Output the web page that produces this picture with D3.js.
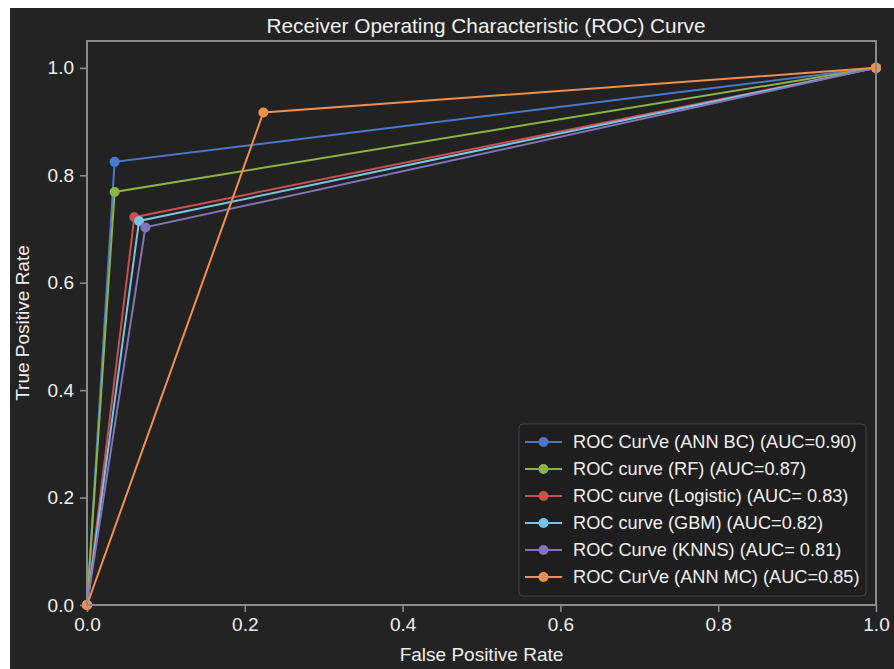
<!DOCTYPE html>
<html>
<head>
<meta charset="utf-8">
<script src="https://cdn.jsdelivr.net/npm/d3@7"></script>
<style>
  body { margin: 0; background: #ffffff; }
  text { font-family: "Liberation Sans", Arial, sans-serif; fill: #f0f0f0; }
</style>
</head>
<body>
<div id="chart"></div>
<script>
// data: fpr / tpr for each model
var names = ["ROC CurVe (ANN BC) (AUC=0.90)", "ROC curve (RF) (AUC=0.87)", "ROC curve (Logistic) (AUC= 0.83)",
             "ROC curve (GBM) (AUC=0.82)", "ROC Curve (KNNS) (AUC= 0.81)", "ROC CurVe (ANN MC) (AUC=0.85)"];
var colors = ["#4a78cc", "#8cb440", "#c8504f", "#78c4e2", "#8373b8", "#f0904c"];
var fprBC = [0, 0.035, 1], tprBC = [0, 0.825, 1];
var fprRF = [0, 0.035, 1], tprRF = [0, 0.769, 1];
var fprLog = [0, 0.060, 1], tprLog = [0, 0.722, 1];
var fprGBM = [0, 0.066, 1], tprGBM = [0, 0.715, 1];
var fprKNN = [0, 0.074, 1], tprKNN = [0, 0.703, 1];
var fprMC = [0, 0.2235, 1], tprMC = [0, 0.917, 1];
var xTicks = [0, 0.2, 0.4, 0.6, 0.8, 1.0];
var yTicks = [0, 0.2, 0.4, 0.6, 0.8, 1.0];

var fprs = [fprBC, fprRF, fprLog, fprGBM, fprKNN, fprMC];
var tprs = [tprBC, tprRF, tprLog, tprGBM, tprKNN, tprMC];
var series = names.map(function(n, i) {
    return {name: n, color: colors[i], pts: fprs[i].map(function(f, j) { return [f, tprs[i][j]]; })};
});

var svgWidth = 894, svgHeight = 669;
var margin = {top: 41, right: 18, bottom: 64, left: 87};
var width = 876 - margin.left;
var height = 605 - margin.top;

var svg = d3.select("#chart").append("svg").attr("width", svgWidth).attr("height", svgHeight);
// dark figure background (picture has a thin white strip at top/left)
svg.append("rect").attr("x", 10).attr("y", 8).attr("width", svgWidth - 10).attr("height", svgHeight - 8).attr("fill", "#232323");

var chartGroup = svg.append("g").attr("transform", `translate(${margin.left},${margin.top})`);

var x = d3.scaleLinear().domain([0, 1]).range([0, width]);
var y = d3.scaleLinear().domain([0, 1.05]).range([height, 0]);

chartGroup.append("rect").attr("width", width).attr("height", height).attr("fill", "#222222");

// axes
var bottomAxis = d3.axisBottom(x).tickValues(xTicks).tickFormat(d3.format(".1f")).tickSize(7).tickPadding(6);
var leftAxis = d3.axisLeft(y).tickValues(yTicks).tickFormat(d3.format(".1f")).tickSize(7).tickPadding(6);

var gx = chartGroup.append("g").attr("transform", `translate(0,${height})`).call(bottomAxis);
var gy = chartGroup.append("g").call(leftAxis);
[gx, gy].forEach(function(g) {
    g.select(".domain").remove();
    g.selectAll(".tick line").attr("stroke", "#8a8a8a").attr("stroke-width", 1.6);
    g.selectAll(".tick text").attr("fill", "#f0f0f0").style("font-size", "19px")
        .style("font-family", "Liberation Sans, Arial, sans-serif");
});

// lines + markers
var line = d3.line().x(d => x(d[0])).y(d => y(d[1]));
series.forEach(function(s) {
    chartGroup.append("path").datum(s.pts).attr("d", line)
        .attr("fill", "none").attr("stroke", s.color).attr("stroke-width", 2);
    chartGroup.selectAll(null).data(s.pts).enter().append("circle")
        .attr("cx", d => x(d[0])).attr("cy", d => y(d[1])).attr("r", 5).attr("fill", s.color);
});

// spines
chartGroup.append("rect").attr("width", width).attr("height", height)
    .attr("fill", "none").attr("stroke", "#8a8a8a").attr("stroke-width", 2);

// legend
var lg = chartGroup.append("g").attr("transform", `translate(${519 - margin.left},${424 - margin.top})`);
lg.append("rect").attr("width", 347).attr("height", 172).attr("rx", 4)
    .attr("fill", "#1e1e1e").attr("stroke", "#444444").attr("stroke-width", 1);
series.forEach(function(s, i) {
    var yy = 18 + i * 27;
    lg.append("line").attr("x1", 6).attr("x2", 43).attr("y1", yy).attr("y2", yy)
        .attr("stroke", s.color).attr("stroke-width", 2);
    lg.append("circle").attr("cx", 24.5).attr("cy", yy).attr("r", 5).attr("fill", s.color);
    lg.append("text").attr("x", 54).attr("y", yy).attr("dy", "0.35em")
        .style("font-size", "18.2px").text(s.name);
});

// title and axis labels
svg.append("text").attr("x", 486).attr("y", 33).attr("text-anchor", "middle")
    .style("font-size", "20.8px").text("Receiver Operating Characteristic (ROC) Curve");
svg.append("text").attr("x", (87 + 876) / 2).attr("y", 661).attr("text-anchor", "middle")
    .style("font-size", "19px").text("False Positive Rate");
svg.append("text").attr("transform", "rotate(-90)").attr("x", -323).attr("y", 29)
    .attr("text-anchor", "middle").style("font-size", "19px").text("True Positive Rate");
</script>
</body>
</html>
